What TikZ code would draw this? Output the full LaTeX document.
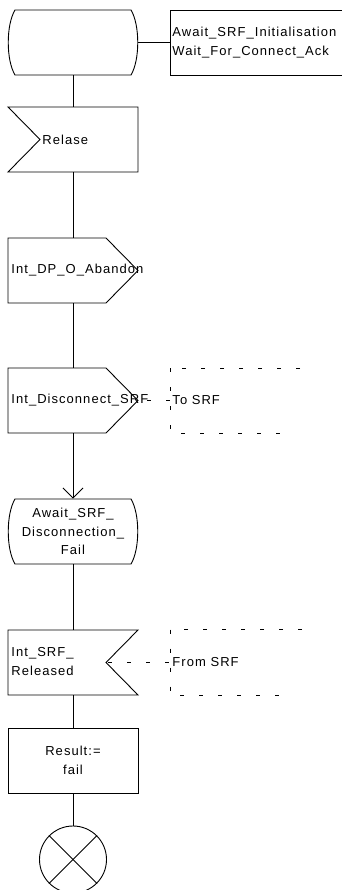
\documentclass[tikz,border=0pt]{standalone}
\usepackage{fontspec}
\setmainfont{Liberation Sans}[LetterSpace=8]
\usetikzlibrary{arrows.meta}
\begin{document}
\begin{tikzpicture}[x=1pt,y=-1pt,line width=0.9pt,
  sym/.style={minimum width=130pt,minimum height=65pt,inner sep=0pt,draw=none},
  txt/.style={inner sep=0pt,font=\fontsize{13pt}{18.5pt}\selectfont},
  cmt/.style={dash pattern=on 4pt off 15pt},
  arr/.style={-{Straight Barb[length=10pt,width=20pt]}}]
\useasboundingbox (0,0) rectangle (342,890);
% symbol anchors
\node[sym] (st1) at (73,42.5) {};
\node[sym] (in1) at (73,139.5) {};
\node[sym] (o1) at (73,270.5) {};
\node[sym] (o2) at (73,400.5) {};
\node[sym] (st2) at (73,531.5) {};
\node[sym] (in2) at (73,662.5) {};
\node[sym,draw] (task) at (73,760.5) {};
\node[circle,draw,minimum size=67pt,inner sep=0pt] (stop) at (73,859.5) {};
\node[draw,minimum width=180pt,minimum height=65pt,inner sep=0pt,anchor=west] (hdr) at (170,42.5) {};
\coordinate (c1) at (170,400.5);
\coordinate (c2) at (170,662.5);
\coordinate (in2n) at (106,662.5);
% state 1
\draw (15,10) -- (131,10) .. controls (140,25) and (140,60) .. (131,75) -- (15,75)
      .. controls (6,60) and (6,25) .. (15,10) -- cycle;
% input Relase
\draw (8,107) -- (138,107) -- (138,172) -- (8,172) -- (40,139.5) -- cycle;
% outputs
\draw (8,238) -- (106,238) -- (138,270.5) -- (106,303) -- (8,303) -- cycle;
\draw (8,368) -- (106,368) -- (138,400.5) -- (106,433) -- (8,433) -- cycle;
% state 2
\draw (15,499) -- (131,499) .. controls (140,514) and (140,549) .. (131,564) -- (15,564)
      .. controls (6,549) and (6,514) .. (15,499) -- cycle;
% input from right
\draw (8,630) -- (138,630) -- (106,662.5) -- (138,695) -- (8,695) -- cycle;
% terminator cross
\draw (stop.north west) -- (stop.south east);
\draw (stop.north east) -- (stop.south west);
% comment brackets
\draw[cmt] (300,368) -- (170,368);
\draw[cmt] (170,368) -- (170,433) -- (292,433);
\draw[cmt] (302,629.5) -- (170,629.5);
\draw[cmt] (170,629.5) -- (170,695.5) -- (292,695.5);
% connectors
\draw (st1.east) -- (hdr.west);
\draw (st1.south) -- (in1.north);
\draw (in1.south) -- (o1.north);
\draw (o1.south) -- (o2.north);
\draw[arr] (o2.south) -- (st2.north);
\draw (st2.south) -- (in2.north);
\draw (in2.south) -- (task.north);
\draw (task.south) -- (stop.north);
\draw[cmt,dash phase=10pt] (o2.east) -- (c1);
\draw[cmt,dash phase=-2pt] (in2n) -- (c2);
% texts
\node[txt,anchor=west,align=left] (th) at (172,42.5) {Await\_SRF\_Initialisation\\Wait\_For\_Connect\_Ack};
\node[txt,anchor=west] (t1) at (42,139.5) {Relase};
\node[txt,anchor=west] (t2) at (11,270.5) {Int\_DP\_O\_Abandon};
\node[txt,anchor=west] (t3) at (11,400.5) {Int\_Disconnect\_SRF};
\node[txt,anchor=west] (t4) at (172,400.5) {To SRF};
\node[txt,align=center] (t5) at (st2) {Await\_SRF\_\\Disconnection\_\\Fail};
\node[txt,anchor=west,align=left] (t6) at (11,661.5) {Int\_SRF\_\\Released};
\node[txt,anchor=west] (t7) at (172,662.5) {From SRF};
\node[txt,align=center] (t8) at (task) {Result:=\\fail};
\end{tikzpicture}
\end{document}
